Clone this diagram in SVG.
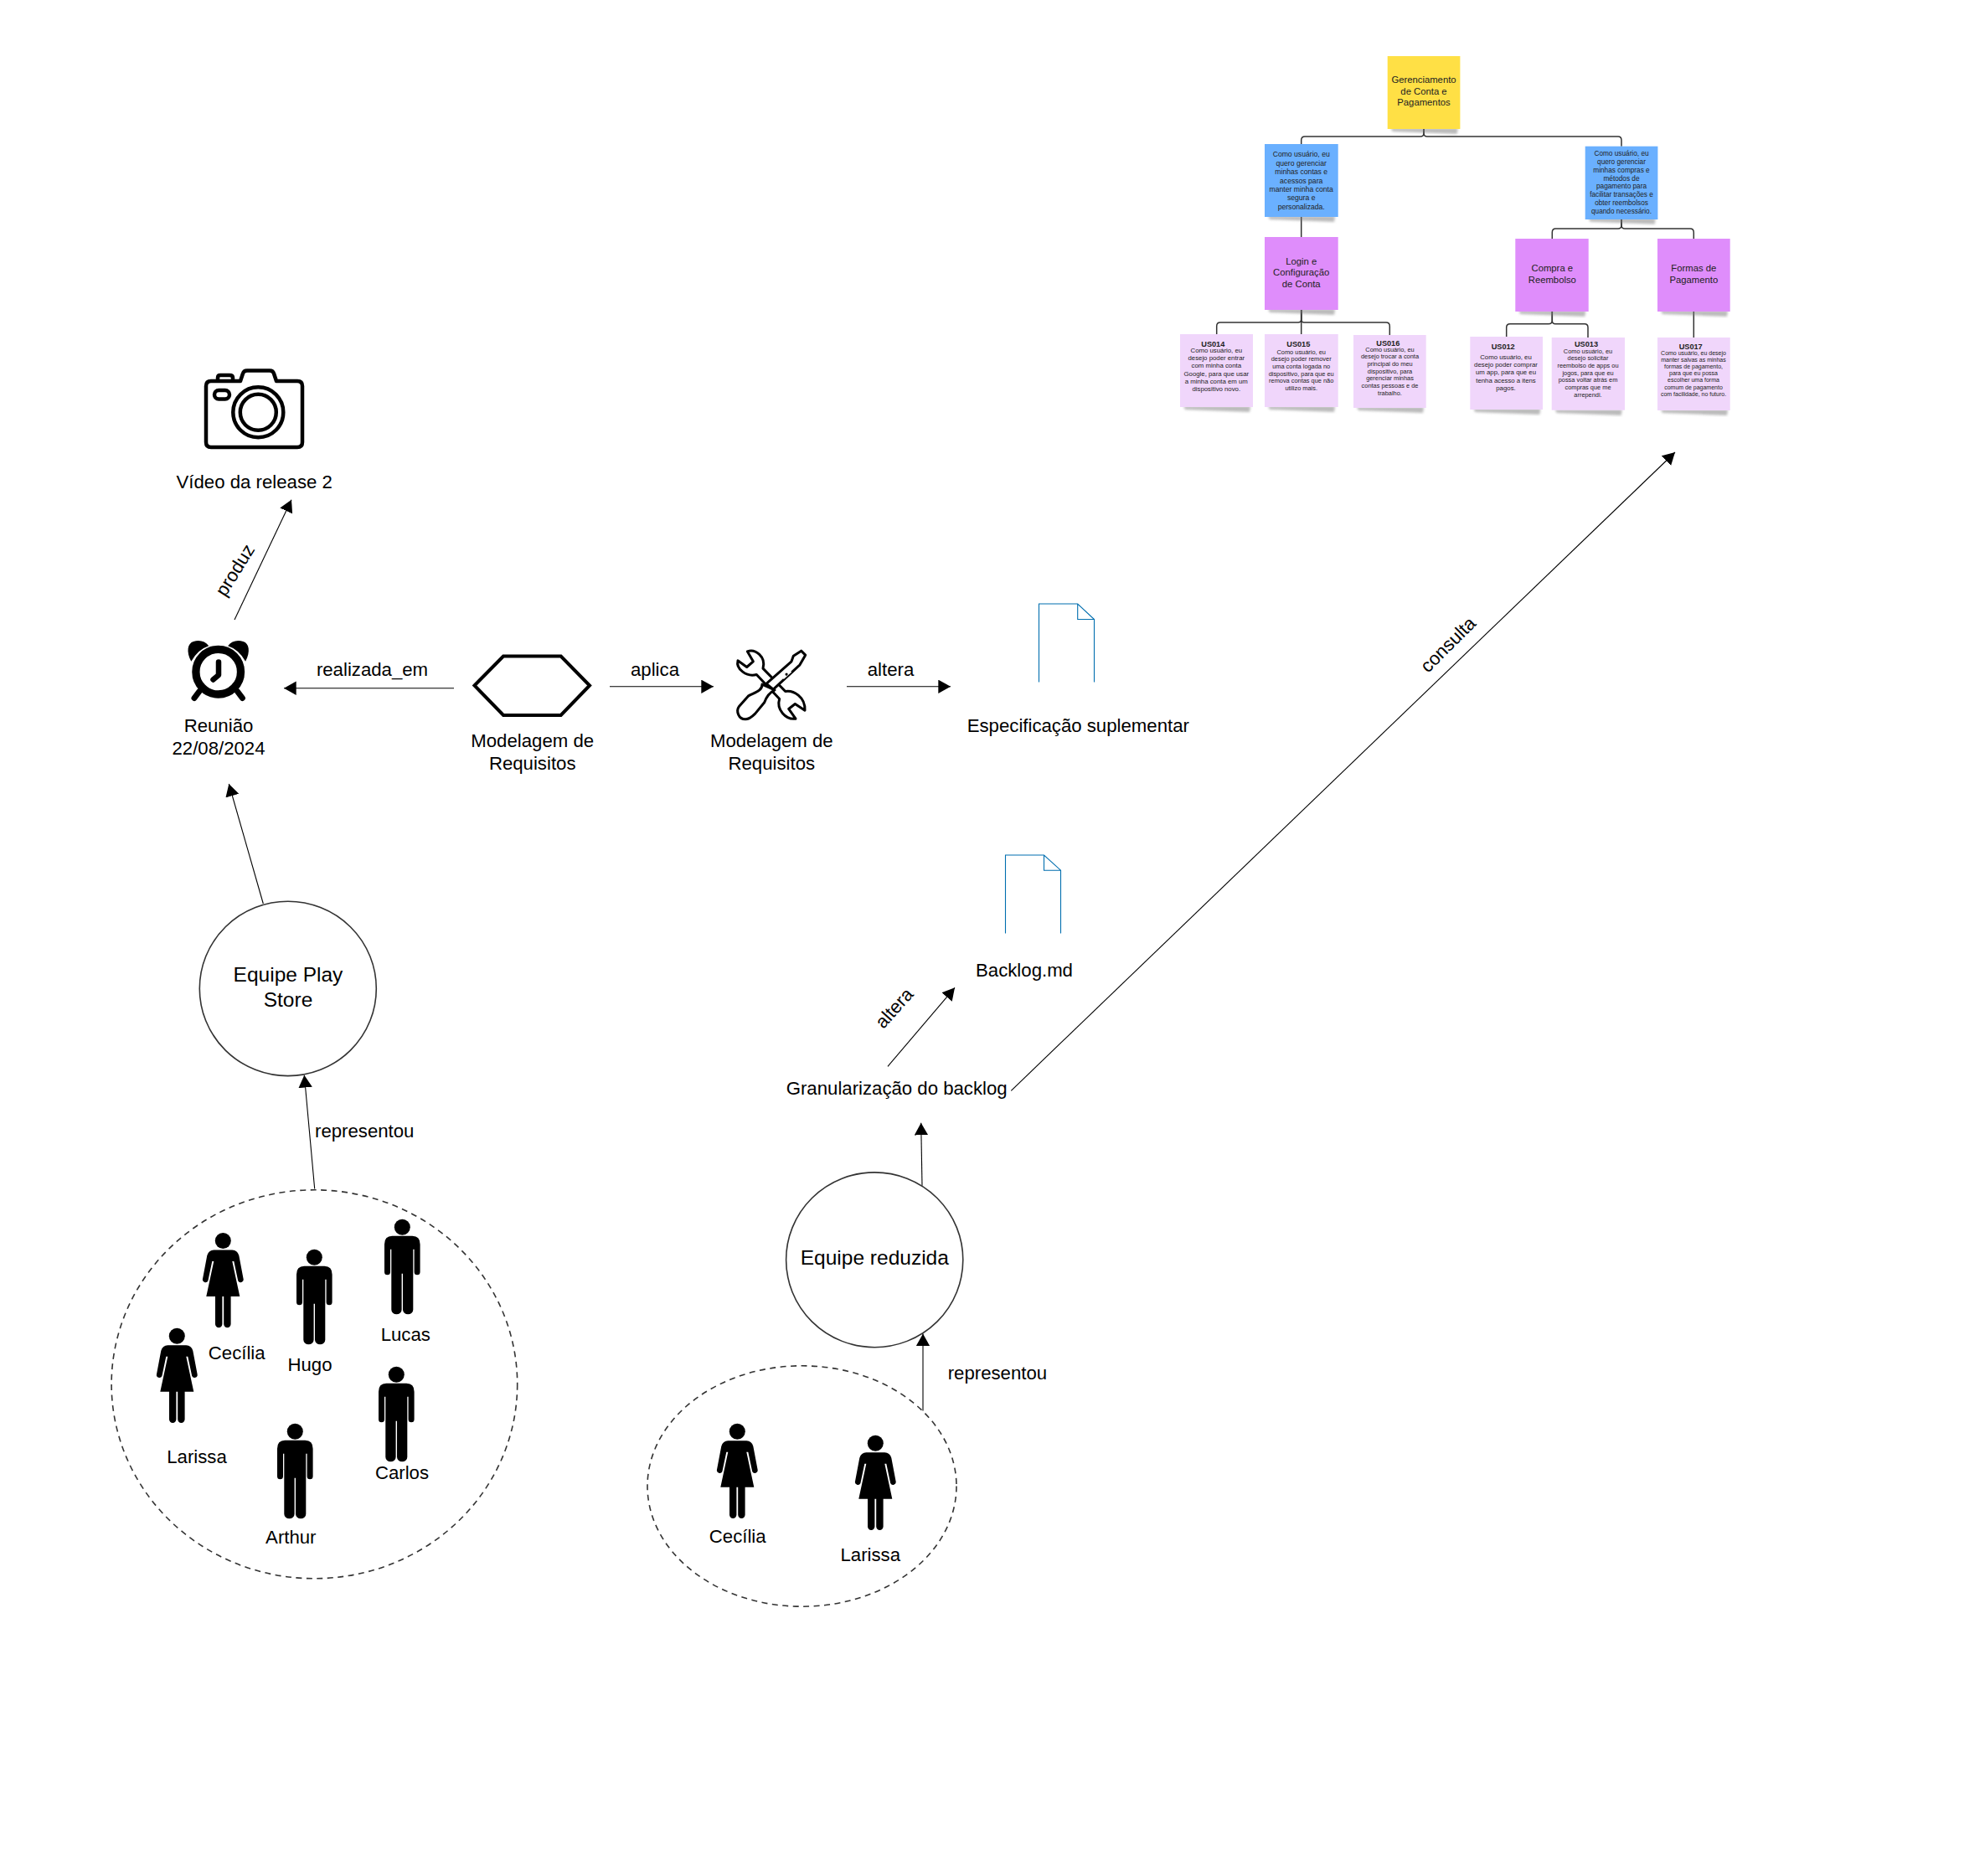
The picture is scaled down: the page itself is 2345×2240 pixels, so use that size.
<svg xmlns="http://www.w3.org/2000/svg" width="2345" height="2240" viewBox="0 0 2345 2240">
<style>
text{font-family:"Liberation Sans",Arial,sans-serif;fill:#000;text-anchor:middle}
text:not([transform]){transform:translate(0,.8px)}
.l{font-size:22.2px}
.c{font-size:24.5px}
.s{text-anchor:start}
.t11{font-size:11.3px;fill:#222}
.t8{font-size:8.3px;fill:#222}
.t7{font-size:7.4px;fill:#222}
.tb{font-size:9.2px;font-weight:bold;fill:#222}
.edge{fill:none;stroke:#000;stroke-width:1.1;marker-end:url(#arr)}
.tree{fill:none;stroke:#333;stroke-width:1.5}
.circ{fill:#fff;stroke:#333;stroke-width:1.6}
.dash{fill:#fff;stroke:#333;stroke-width:1.6;stroke-dasharray:7 5.5}
.doc{fill:none;stroke:#006EAF;stroke-width:1.1}
.yellow{fill:#FFE045}.blue{fill:#6AB0FF}.purple{fill:#DF8DFB}.pale{fill:#F0D6FB}
.shadow{fill:#777;opacity:.5;filter:url(#blur)}
</style>
<defs>
<marker id="arr" markerUnits="userSpaceOnUse" markerWidth="16" markerHeight="17" refX="14.7" refY="8.2" orient="auto"><path d="M0,0 L14.7,8.2 L0,16.4 Z" fill="#000"/></marker>
<filter id="blur" x="-10%" y="-10%" width="120%" height="130%"><feGaussianBlur stdDeviation="1.5"/></filter>
<g id="man"><circle cx="0" cy="9.5" r="9.5"/><path d="M-12,20 H12 Q21.3,20 21.3,30 V63 a3.5,3.5 0 0 1 -7,0 V36 H13 V108 a6,5.5 0 0 1 -12.3,0 V65 H-0.7 V108 a6,5.5 0 0 1 -12.3,0 V36 H-14.3 V63 a3.5,3.5 0 0 1 -7,0 V30 Q-21.3,20 -12,20 Z"/></g>
<g id="woman"><circle cx="0" cy="9.5" r="9.5"/><path d="M-11,20.5 H11 Q17,20.5 19,27 L24.3,55 a3.4,3.4 0 0 1 -6.4,2.2 L13,34 H11 L20,76 H9.3 V109 a4.2,4.2 0 0 1 -8.4,0 V76 H-0.9 V109 a4.2,4.2 0 0 1 -8.4,0 V76 H-20 L-11,34 H-13 L-17.9,57.2 a3.4,3.4 0 0 1 -6.4,-2.2 L-19,27 Q-17,20.5 -11,20.5 Z"/></g>
<path id="sh" d="M4,86 L84,86 L83,93 L6,90 Z"/>
</defs>

<g id="connectors">
<path class="edge" d="M280,740 L348,596.7"/>
<path class="edge" d="M542,821.8 H339"/>
<path class="edge" d="M728,819.8 H852"/>
<path class="edge" d="M1011,819.8 H1135"/>
<path class="edge" d="M314.3,1079 L273.3,936"/>
<path class="edge" d="M375.7,1419.5 L363.3,1283.8"/>
<path class="edge" d="M1060,1273.3 L1140,1179.3"/>
<path class="edge" d="M1207.3,1302.3 L2000,540"/>
<path class="edge" d="M1101,1415.7 L1099.7,1340.7"/>
<path class="tree" d="M1700,154 V159 Q1700,163 1696,163 H1558 Q1553.7,163 1553.7,167.5 V172"/>
<path class="tree" d="M1700,154 V159 Q1700,163 1704,163 H1932 Q1936,163 1936,167.5 V174.7"/>
<path class="tree" d="M1553.7,259 V283"/>
<path class="tree" d="M1553.7,370 V399"/>
<path class="tree" d="M1553.7,370 V381 Q1553.7,385 1550,385 H1457 Q1452.7,385 1452.7,389.5 V399"/>
<path class="tree" d="M1553.7,370 V381 Q1553.7,385 1557,385 H1655 Q1659.3,385 1659.3,389.5 V400"/>
<path class="tree" d="M1936,262 V269 Q1936,273 1932,273 H1857.5 Q1853.3,273 1853.3,277.5 V285"/>
<path class="tree" d="M1936,262 V269 Q1936,273 1940,273 H2018 Q2022.3,273 2022.3,277.5 V285"/>
<path class="tree" d="M1853.3,372 V383 Q1853.3,386.7 1849,386.7 H1803 Q1798.7,386.7 1798.7,391 V402"/>
<path class="tree" d="M1853.3,372 V383 Q1853.3,386.7 1857,386.7 H1892 Q1896,386.7 1896,391 V403"/>
<path class="tree" d="M2022.3,372 V403"/>
</g>

<g id="root-note"><use href="#sh" x="1656.7" y="67" class="shadow"/><rect class="yellow" x="1656.7" y="67" width="86.7" height="87"/>
<text class="t11" x="1700" y="98.4">Gerenciamento</text><text class="t11" x="1700" y="112">de Conta e</text><text class="t11" x="1700" y="125.6">Pagamentos</text></g>

<g id="epic-1"><use href="#sh" x="1510" y="172" class="shadow"/><rect class="blue" x="1510" y="172" width="87.7" height="87"/>
<text style="font-size:8.65px;fill:#222" x="1553.7"><tspan x="1553.7" y="186.7">Como usuário, eu</tspan><tspan x="1553.7" y="197">quero gerenciar</tspan><tspan x="1553.7" y="207.4">minhas contas e</tspan><tspan x="1553.7" y="217.8">acessos para</tspan><tspan x="1553.7" y="228.1">manter minha conta</tspan><tspan x="1553.7" y="238.4">segura e</tspan><tspan x="1553.7" y="248.8">personalizada.</tspan></text></g>

<g id="epic-2"><use href="#sh" x="1892.7" y="174.7" class="shadow"/><rect class="blue" x="1892.7" y="174.7" width="86.7" height="87.3"/>
<text class="t8" style="font-size:8.25px"><tspan x="1936" y="185.6">Como usuário, eu</tspan><tspan x="1936" y="195.4">quero gerenciar</tspan><tspan x="1936" y="205.1">minhas compras e</tspan><tspan x="1936" y="214.9">métodos de</tspan><tspan x="1936" y="224.6">pagamento para</tspan><tspan x="1936" y="234.4">facilitar transações e</tspan><tspan x="1936" y="244.1">obter reembolsos</tspan><tspan x="1936" y="253.9">quando necessário.</tspan></text></g>

<g id="feature-login"><use href="#sh" x="1510" y="283" class="shadow"/><rect class="purple" x="1510" y="283" width="87.7" height="87"/>
<text class="t11" x="1553.7" y="315">Login e</text><text class="t11" x="1553.7" y="328.5">Configuração</text><text class="t11" x="1553.7" y="342">de Conta</text></g>

<g id="feature-compra"><use href="#sh" x="1809.3" y="285" class="shadow"/><rect class="purple" x="1809.3" y="285" width="87.4" height="87"/>
<text class="t11" x="1853.3" y="323.3">Compra e</text><text class="t11" x="1853.3" y="337">Reembolso</text></g>

<g id="feature-formas"><use href="#sh" x="1979" y="285" class="shadow"/><rect class="purple" x="1979" y="285" width="86.7" height="87"/>
<text class="t11" x="2022.3" y="323.3">Formas de</text><text class="t11" x="2022.3" y="337">Pagamento</text></g>

<g id="us014"><use href="#sh" x="1409" y="399" class="shadow"/><rect class="pale" x="1409" y="399" width="87" height="87"/>
<text class="tb" x="1448.3" y="413">US014</text>
<text class="t7" style="font-size:7.8px"><tspan x="1452.3" y="420.2">Como usuário, eu</tspan><tspan x="1452.3" y="429.4">desejo poder entrar</tspan><tspan x="1452.3" y="438.7">com minha conta</tspan><tspan x="1452.3" y="447.9">Google, para que usar</tspan><tspan x="1452.3" y="457.1">a minha conta em um</tspan><tspan x="1452.3" y="466.4">dispositivo novo.</tspan></text></g>

<g id="us015"><use href="#sh" x="1510" y="399" class="shadow"/><rect class="pale" x="1510" y="399" width="87.7" height="87"/>
<text class="tb" x="1550.3" y="413.4">US015</text>
<text class="t7" style="font-size:7.4px"><tspan x="1553.7" y="421.8">Como usuário, eu</tspan><tspan x="1553.7" y="430.5">desejo poder remover</tspan><tspan x="1553.7" y="439.2">uma conta logada no</tspan><tspan x="1553.7" y="447.9">dispositivo, para que eu</tspan><tspan x="1553.7" y="456.6">remova contas que não</tspan><tspan x="1553.7" y="465.3">utilizo mais.</tspan></text></g>

<g id="us016"><use href="#sh" x="1616" y="400" class="shadow"/><rect class="pale" x="1616" y="400" width="86.7" height="87"/>
<text class="tb" x="1657.3" y="412.3">US016</text>
<text class="t7" style="font-size:7.4px"><tspan x="1659.5" y="418.9">Como usuário, eu</tspan><tspan x="1659.5" y="427.6">desejo trocar a conta</tspan><tspan x="1659.5" y="436.2">principal do meu</tspan><tspan x="1659.5" y="444.9">dispositivo, para</tspan><tspan x="1659.5" y="453.6">gerenciar minhas</tspan><tspan x="1659.5" y="462.2">contas pessoas e de</tspan><tspan x="1659.5" y="470.9">trabalho.</tspan></text></g>

<g id="us012"><use href="#sh" x="1755.3" y="402" class="shadow"/><rect class="pale" x="1755.3" y="402" width="86.7" height="87"/>
<text class="tb" x="1794.7" y="416.6">US012</text>
<text class="t7" style="font-size:7.8px"><tspan x="1798" y="428.2">Como usuário, eu</tspan><tspan x="1798" y="437.4">desejo poder comprar</tspan><tspan x="1798" y="446.7">um app, para que eu</tspan><tspan x="1798" y="455.9">tenha acesso a itens</tspan><tspan x="1798" y="465.1">pagos.</tspan></text></g>

<g id="us013"><use href="#sh" x="1852.7" y="403" class="shadow"/><rect class="pale" x="1852.7" y="403" width="87.3" height="86.7"/>
<text class="tb" x="1894" y="413.4">US013</text>
<text class="t7" style="font-size:7.4px"><tspan x="1896" y="420.8">Como usuário, eu</tspan><tspan x="1896" y="429.5">desejo solicitar</tspan><tspan x="1896" y="438.2">reembolso de apps ou</tspan><tspan x="1896" y="446.9">jogos, para que eu</tspan><tspan x="1896" y="455.6">possa voltar atrás em</tspan><tspan x="1896" y="464.3">compras que me</tspan><tspan x="1896" y="473">arrependi.</tspan></text></g>

<g id="us017"><use href="#sh" x="1979" y="403" class="shadow"/><rect class="pale" x="1979" y="403" width="86.7" height="87"/>
<text class="tb" x="2018.7" y="416.2">US017</text>
<text class="t7" style="font-size:7px"><tspan x="2022" y="423">Como usuário, eu desejo</tspan><tspan x="2022" y="431.2">manter salvas as minhas</tspan><tspan x="2022" y="439.3">formas de pagamento,</tspan><tspan x="2022" y="447.5">para que eu possa</tspan><tspan x="2022" y="455.6">escolher uma forma</tspan><tspan x="2022" y="463.8">comum de pagamento</tspan><tspan x="2022" y="471.9">com facilidade, no futuro.</tspan></text></g>

<g id="video">
<g fill="none" stroke="#000" stroke-width="4.5" stroke-linejoin="round">
<path d="M252,455 H287 L290,446 Q291,442.5 295,442.5 H322 Q326,442.5 327,446 L330,455 H355 Q361,455 361,461 V528 Q361,534 355,534 H252 Q246,534 246,528 V461 Q246,455 252,455 Z" fill="#fff"/>
<path d="M260,455 V451 Q260,448 263,448 H274 Q278,448 278,451 V455"/>
<rect x="256" y="466" width="18" height="10.5" rx="5.2"/>
<circle cx="308.3" cy="492.3" r="30"/>
<circle cx="308.3" cy="492.3" r="21.5"/>
</g>
<text class="l" x="303.7" y="582.7">Vídeo da release 2</text>
</g>

<g id="reuniao">
<circle cx="260.7" cy="802.2" r="26.8" fill="#fff" stroke="#000" stroke-width="9.3"/>
<path d="M228.3,789.8 C222,778 224,768 231,766 C238,763.5 245,765.5 249.3,771.2 Q236,775.5 228.3,789.8 Z"/>
<path d="M293.1,789.8 C299.4,778 297.4,768 290.4,766 C283.4,763.5 276.4,765.5 272.1,771.2 Q285.4,775.5 293.1,789.8 Z"/>
<path d="M238,825.5 L232,833.5 M283.4,825.5 L289.4,833.5" stroke="#000" stroke-width="7" stroke-linecap="round"/>
<path d="M261,790.5 V806 L254.5,811.5" fill="none" stroke="#000" stroke-width="6.5" stroke-linecap="round" stroke-linejoin="round"/>
<text class="l" x="261" y="873.3">Reunião</text>
<text class="l" x="261" y="900">22/08/2024</text>
</g>

<g id="modelagem-hex">
<path d="M566.5,818.5 L601,783.5 H669.7 L704,818.5 L669.7,854 H601 Z" fill="#fff" stroke="#000" stroke-width="4"/>
<text class="l" x="635.7" y="891.7">Modelagem de</text>
<text class="l" x="635.7" y="918.3">Requisitos</text>
</g>

<g id="modelagem-tools">
<g transform="translate(860,760.5) scale(.3333)" fill="#fff" stroke="#000" stroke-width="9" stroke-linejoin="round" stroke-linecap="round">
<path d="M97,52 C125,42 165,70 153,113 L233,195 C262,190 305,215 303,263 L268,240 L245,258 L270,293 C235,298 200,260 212,222 L130,135 C95,145 55,115 63,85 L95,108 L118,88 Z"/>
<path d="M165,168 L255,88 L262,68 L290,50 L305,65 L285,100 L190,188 Z"/>
<path d="M252,122 L224,148" stroke="#fff" stroke-width="10" stroke-linecap="butt"/>
<path d="M237,134 L237.5,133.5"/>
<path d="M150,170 C150,195 120,200 100,212 L68,248 C55,265 65,295 90,295 C105,295 115,285 125,275 L158,235 C165,215 175,200 195,190 Z"/>
</g>
<text class="l" x="921.3" y="891.7">Modelagem de</text>
<text class="l" x="921.3" y="918.3">Requisitos</text>
</g>

<g id="especificacao">
<path class="doc" d="M1240.5,814.5 V721 H1286.7 L1306.5,739.5 V814.5 M1286.7,721 V739.5 H1306.5"/>
<text class="l" x="1287.3" y="873.3">Especificação suplementar</text>
</g>

<g id="backlog">
<path class="doc" d="M1200.5,1114.5 V1021 H1246.5 L1266.5,1039.2 V1114.5 M1246.5,1021 V1039.2 H1266.5"/>
<text class="l" x="1223" y="1165">Backlog.md</text>
</g>

<g id="granularizacao"><text class="l" x="1070.7" y="1306.7">Granularização do backlog</text></g>

<g id="equipe-play"><ellipse class="circ" cx="343.8" cy="1180.4" rx="105.5" ry="104.2"/>
<text class="c" x="344" y="1171.7">Equipe Play</text><text class="c" x="344" y="1201">Store</text></g>

<g id="equipe-reduzida"><ellipse class="circ" cx="1044.2" cy="1504.3" rx="105.6" ry="104.4"/>
<text class="c" x="1044.3" y="1509.3">Equipe reduzida</text></g>

<g id="grupo-play"><ellipse class="dash" cx="375.4" cy="1652.8" rx="242.3" ry="232"/>
<use href="#woman" x="266.3" y="1472"/><text class="l" x="282.7" y="1622.7">Cecília</text>
<use href="#man" x="375.3" y="1491.7"/><text class="l" x="370" y="1636">Hugo</text>
<use href="#man" x="480.3" y="1455.7"/><text class="l" x="484.3" y="1600">Lucas</text>
<use href="#woman" x="211.3" y="1585.7"/><text class="l" x="235" y="1746">Larissa</text>
<use href="#man" x="473.3" y="1631.7"/><text class="l" x="480" y="1765.7">Carlos</text>
<use href="#man" x="352.3" y="1699.7"/><text class="l" x="347.3" y="1842">Arthur</text>
</g>

<g id="grupo-reduzido"><ellipse class="dash" cx="957.5" cy="1774.5" rx="184.5" ry="143.7"/>
<use href="#woman" x="880.3" y="1699.7"/><text class="l" x="880.7" y="1841.7">Cecília</text>
<use href="#woman" x="1045.3" y="1713.7"/><text class="l" x="1039.3" y="1863.3">Larissa</text>
</g>

<g id="connectors-top"><path class="edge" d="M1102,1684.5 V1592.5"/></g>

<g id="edge-labels">
<text class="l" transform="translate(281,681) rotate(-58)" y="7">produz</text>
<text class="l" x="444.5" y="806">realizada_em</text>
<text class="l" x="782" y="806">aplica</text>
<text class="l" x="1063.5" y="806">altera</text>
<text class="l s" x="376" y="1357">representou</text>
<text class="l s" x="1131.7" y="1646">representou</text>
<text class="l" transform="translate(1068,1204) rotate(-48)" y="7">altera</text>
<text class="l" transform="translate(1729.3,770) rotate(-45)" y="7">consulta</text>
</g>
</svg>
